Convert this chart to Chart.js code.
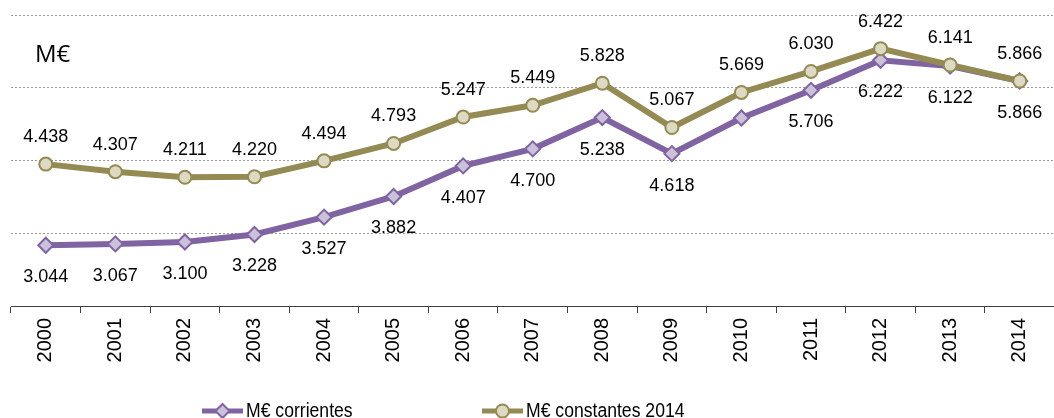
<!DOCTYPE html>
<html>
<head>
<meta charset="utf-8">
<script src="https://cdn.jsdelivr.net/npm/chart.js@4/dist/chart.umd.min.js"></script>
<style>
  html, body { margin: 0; padding: 0; background: #fff; overflow: hidden; }
  #wrap { width: 1054px; height: 418px; overflow: hidden; }
</style>
</head>
<body>
<div id="wrap"><canvas id="chart" width="1064" height="418"></canvas></div>
<script>
// años (eje x)
const years = ['2000','2001','2002','2003','2004','2005','2006','2007','2008','2009','2010','2011','2012','2013','2014'];
// M€ corrientes (2010 sin etiqueta en el original, valor estimado)
const corrientes = [3044, 3067, 3100, 3228, 3527, 3882, 4407, 4700, 5238, 4618, 5230, 5706, 6222, 6122, 5866];
const corrientesShowLabel = [true, true, true, true, true, true, true, true, true, true, false, true, true, true, true];
// M€ constantes 2014
const constantes = [4438, 4307, 4211, 4220, 4494, 4793, 5247, 5449, 5828, 5067, 5669, 6030, 6422, 6141, 5866];
const seriesNames = ['M€ corrientes', 'M€ constantes 2014'];

const purple = '#8064A2', purpleFill = '#CCC1DA';
const olive = '#948A54', oliveFill = '#DDD9C3';

// formato 3.044
function fmt(v) {
    return String(v).replace(/\B(?=(\d{3})+(?!\d))/g, '.');
}

// etiquetas de datos, título "M€" y leyenda
const extras = {
    id: 'extras',
    afterDatasetsDraw(chart) {
        const ctx = chart.ctx;
        ctx.save();
        ctx.fillStyle = '#000';
        ctx.font = '18px "Liberation Sans", Arial, sans-serif';
        ctx.textAlign = 'center';
        ctx.textBaseline = 'middle';
        chart.data.datasets.forEach((ds, di) => {
            const meta = chart.getDatasetMeta(di);
            meta.data.forEach((pt, i) => {
                if (di === 0 && !corrientesShowLabel[i]) return;
                const dy = di === 0 ? 32 : -27;
                ctx.fillText(fmt(ds.data[i]), pt.x, pt.y + dy);
            });
        });

        ctx.textAlign = 'left';
        ctx.textBaseline = 'alphabetic';
        ctx.font = '24px "Open Sans", sans-serif';
        ctx.fillText('M€', 35, 62);

        // leyenda
        const items = [
            {x: 202, color: purple, fill: purpleFill, style: 'rectRot', r: 7},
            {x: 482, color: olive, fill: oliveFill, style: 'circle', r: 6.5}
        ];
        const ly = 411;
        items.forEach((it, i) => {
            ctx.strokeStyle = it.color;
            ctx.lineWidth = 5;
            ctx.beginPath();
            ctx.moveTo(it.x, ly);
            ctx.lineTo(it.x + 41, ly);
            ctx.stroke();
            ctx.fillStyle = it.fill;
            ctx.lineWidth = 2;
            Chart.helpers.drawPoint(ctx, {pointStyle: it.style, radius: it.r, borderWidth: 2}, it.x + 20.5, ly);
            // texto algo estrecho, como en el original
            ctx.save();
            ctx.translate(it.x + 44, ly);
            ctx.scale(0.88, 1);
            ctx.fillStyle = '#000';
            ctx.font = '20px "Liberation Sans", Arial, sans-serif';
            ctx.textBaseline = 'middle';
            ctx.fillText(seriesNames[i], 0, 0);
            ctx.restore();
        });
        ctx.restore();
    }
};

new Chart(document.getElementById('chart'), {
    type: 'line',
    data: {
        labels: years,
        datasets: [{
            label: seriesNames[0],
            data: corrientes,
            borderColor: purple,
            backgroundColor: purpleFill,
            borderWidth: 6,
            pointStyle: 'rectRot',
            pointRadius: 7.5,
            pointBorderWidth: 2,
            pointBorderColor: purple,
            pointBackgroundColor: purpleFill,
            tension: 0,
            order: 2
        }, {
            label: seriesNames[1],
            data: constantes,
            borderColor: olive,
            backgroundColor: oliveFill,
            borderWidth: 6,
            pointStyle: 'circle',
            pointRadius: 6.5,
            pointBorderWidth: 2,
            pointBorderColor: olive,
            pointBackgroundColor: oliveFill,
            tension: 0,
            order: 1
        }]
    },
    options: {
        responsive: false,
        animation: false,
        devicePixelRatio: 1,
        layout: { padding: { left: 11, right: 0, top: 15, bottom: 0 } },
        plugins: { legend: { display: false }, tooltip: { enabled: false } },
        scales: {
            x: {
                offset: true,
                grid: { offset: true, drawOnChartArea: false, drawTicks: true, tickLength: 7, color: '#404040' },
                border: { color: '#404040', width: 1 },
                ticks: {
                    color: '#000',
                    minRotation: 90, maxRotation: 90,
                    padding: 5,
                    font: { family: '"Liberation Sans", Arial, sans-serif', size: 20 }
                },
                afterFit: s => { s.height = 112; }
            },
            y: {
                min: 2000, max: 7000,
                ticks: { display: false, stepSize: 1250 },
                border: { display: false, dash: [2, 2] },
                grid: { color: '#9a9a9a', lineWidth: 1, drawTicks: false },
                afterFit: s => { s.width = 0; }
            }
        }
    },
    plugins: [extras]
});
</script>
</body>
</html>
